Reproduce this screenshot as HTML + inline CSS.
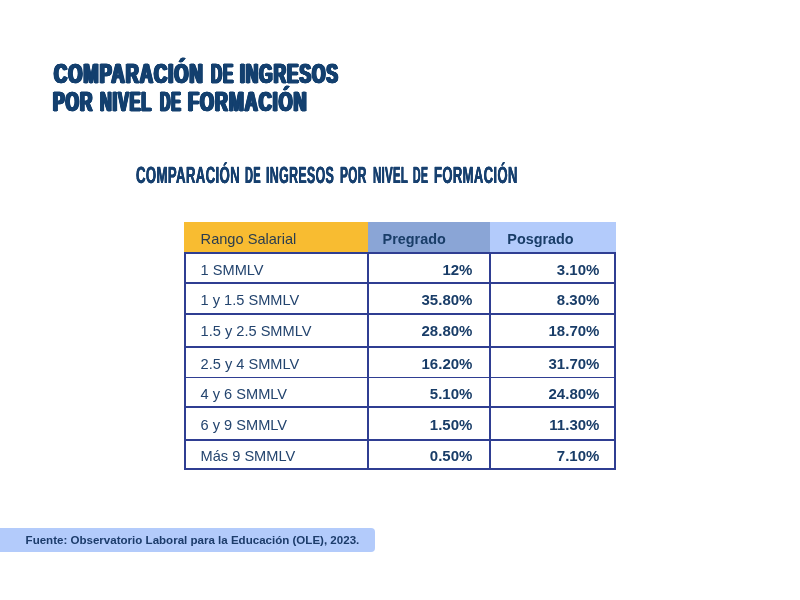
<!DOCTYPE html>
<html lang="es">
<head>
<meta charset="utf-8">
<title>Comparación de ingresos por nivel de formación</title>
<style>
  html, body { margin: 0; padding: 0; }
  body { width: 800px; height: 600px; position: relative; overflow: hidden; background: #ffffff;
         font-family: "Liberation Sans", sans-serif; color: #1b3f6e; }
  h1, h2 { margin: 0; position: absolute; left: 0; top: 0; width: 800px; height: 0; font-weight: bold; }
  .w { position: absolute; display: block; white-space: nowrap; transform-origin: 0 0; }
  h1 { font-size: 28.5px; line-height: 28px; color: #14406f; letter-spacing: 1.6px;
       -webkit-text-stroke: 0.8px #14406f; text-shadow: -1.9px 0 0 #14406f, -1.4px 0 0 #14406f, -0.9px 0 0 #14406f, -0.45px 0 0 #14406f, 0.45px 0 0 #14406f, 0.9px 0 0 #14406f, 1.4px 0 0 #14406f, 1.9px 0 0 #14406f; }
  h2 { font-size: 23.4px; line-height: 28px; color: #17406f; letter-spacing: 0.6px;
       -webkit-text-stroke: 0.2px #17406f; text-shadow: -0.3px 0 0 #17406f, 0.3px 0 0 #17406f; }
  .tbl { position: absolute; left: 184px; top: 222px; width: 432px; height: 248px; }
  .hd { position: absolute; top: 0; height: 31px; }
  .hd1 { left: 0; width: 184px; background: #f8bc31; }
  .hd2 { left: 184px; width: 122px; background: #8aa5d6; }
  .hd3 { left: 306px; width: 126px; background: #b3cbfb; }
  .ln { position: absolute; background: #2f3e92; }
  .t { position: absolute; white-space: nowrap; font-size: 14.6px; line-height: 16px; color: #23446e; }
  .l { left: 16.6px; }
  .b { font-weight: bold; font-size: 15px; color: #193d68; }
  .hb { font-size: 14.4px; }
  .hl { color: #2a3d4f; }
  .r2 { right: 143.6px; text-align: right; }
  .r3 { right: 16.6px; text-align: right; }
  .foot { position: absolute; left: 0; top: 528px; width: 375px; height: 24px; background: #b3cbfb; border-radius: 0 4px 4px 0; }
  .foot span { position: absolute; left: 25.6px; top: 4.4px; font-size: 11.55px; line-height: 16px; font-weight: bold; color: #1c3c6b; white-space: nowrap; }
</style>
</head>
<body>
<h1>
  <span class="w" style="left:54.10px;top:58.50px;transform:scale(0.6398,1)">COMPARACIÓN</span>
  <span class="w" style="left:210.60px;top:58.50px;transform:scale(0.5413,1)">DE</span>
  <span class="w" style="left:240.00px;top:58.50px;transform:scale(0.6056,1)">INGRESOS</span>
  <span class="w" style="left:53.10px;top:86.50px;transform:scale(0.6060,1)">POR</span>
  <span class="w" style="left:100.00px;top:86.50px;transform:scale(0.5665,1)">NIVEL</span>
  <span class="w" style="left:159.60px;top:86.50px;transform:scale(0.5061,1)">DE</span>
  <span class="w" style="left:188.40px;top:86.50px;transform:scale(0.6285,1)">FORMACIÓN</span>
</h1>
<h2>
  <span class="w" style="left:135.50px;top:160.74px;transform:rotate(0.03deg) scale(0.5648,1)">COMPARACIÓN</span>
  <span class="w" style="left:244.80px;top:160.74px;transform:rotate(0.03deg) scale(0.4720,1)">DE</span>
  <span class="w" style="left:266.00px;top:160.74px;transform:rotate(0.03deg) scale(0.5313,1)">INGRESOS</span>
  <span class="w" style="left:340.00px;top:160.74px;transform:rotate(0.03deg) scale(0.5074,1)">POR</span>
  <span class="w" style="left:372.50px;top:160.74px;transform:rotate(0.03deg) scale(0.4892,1)">NIVEL</span>
  <span class="w" style="left:413.00px;top:160.74px;transform:rotate(0.03deg) scale(0.4531,1)">DE</span>
  <span class="w" style="left:433.50px;top:160.74px;transform:rotate(0.03deg) scale(0.5594,1)">FORMACIÓN</span>
</h2>

<div class="tbl">
  <div class="hd hd1"></div><div class="hd hd2"></div><div class="hd hd3"></div>
  <div class="ln" style="left:0;width:432px;top:30px;height:1.9px"></div>
  <div class="ln" style="left:0;width:432px;top:60.4px;height:1.9px"></div>
  <div class="ln" style="left:0;width:432px;top:91px;height:1.8px"></div>
  <div class="ln" style="left:0;width:432px;top:124.1px;height:1.6px"></div>
  <div class="ln" style="left:0;width:432px;top:154.6px;height:1.8px"></div>
  <div class="ln" style="left:0;width:432px;top:183.9px;height:1.7px"></div>
  <div class="ln" style="left:0;width:432px;top:217.2px;height:1.7px"></div>
  <div class="ln" style="left:0;width:432px;top:245.8px;height:1.8px"></div>
  <div class="ln" style="left:0;width:2px;top:30px;height:217.6px"></div>
  <div class="ln" style="left:182.7px;width:1.85px;top:30px;height:217.6px"></div>
  <div class="ln" style="left:304.9px;width:1.9px;top:30px;height:217.6px"></div>
  <div class="ln" style="left:430px;width:2.1px;top:30px;height:217.6px"></div>

  <div class="t l hl" style="top:9.2px">Rango Salarial</div>
  <div class="t b hb" style="left:198.6px;top:9.2px">Pregrado</div>
  <div class="t b hb" style="left:323.3px;top:9.2px">Posgrado</div>

  <div class="t l" style="top:39.7px">1 SMMLV</div><div class="t b r2" style="top:39.7px">12%</div><div class="t b r3" style="top:39.7px">3.10%</div>
  <div class="t l" style="top:69.6px">1 y 1.5 SMMLV</div><div class="t b r2" style="top:69.6px">35.80%</div><div class="t b r3" style="top:69.6px">8.30%</div>
  <div class="t l" style="top:100.6px">1.5 y 2.5 SMMLV</div><div class="t b r2" style="top:100.6px">28.80%</div><div class="t b r3" style="top:100.6px">18.70%</div>
  <div class="t l" style="top:133.9px">2.5 y 4 SMMLV</div><div class="t b r2" style="top:133.9px">16.20%</div><div class="t b r3" style="top:133.9px">31.70%</div>
  <div class="t l" style="top:163.9px">4 y 6 SMMLV</div><div class="t b r2" style="top:163.9px">5.10%</div><div class="t b r3" style="top:163.9px">24.80%</div>
  <div class="t l" style="top:194.9px">6 y 9 SMMLV</div><div class="t b r2" style="top:194.9px">1.50%</div><div class="t b r3" style="top:194.9px">11.30%</div>
  <div class="t l" style="top:225.9px">Más 9 SMMLV</div><div class="t b r2" style="top:225.9px">0.50%</div><div class="t b r3" style="top:225.9px">7.10%</div>
</div>

<div class="foot"><span>Fuente: Observatorio Laboral para la Educación (OLE), 2023.</span></div>

</body>
</html>
